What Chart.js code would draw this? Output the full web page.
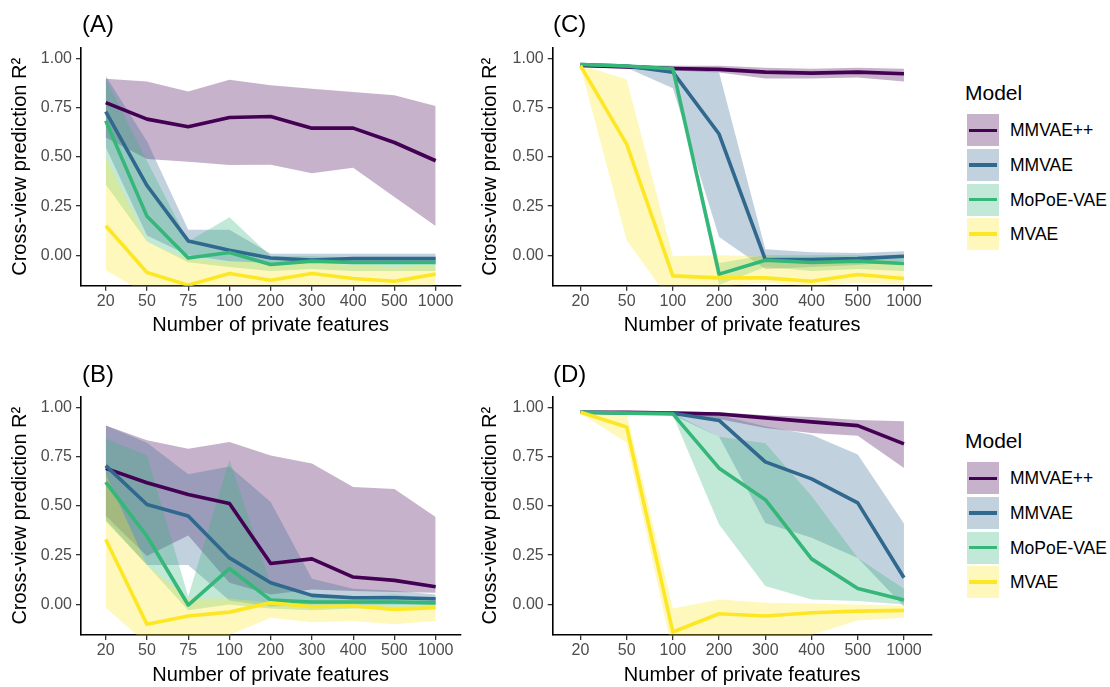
<!DOCTYPE html>
<html><head><meta charset="utf-8">
<script src="https://cdn.jsdelivr.net/npm/chart.js@4.4.1/dist/chart.umd.min.js"></script>
<style>
html,body{margin:0;padding:0;background:#fff;width:1110px;height:687px;overflow:hidden;font-family:"Liberation Sans",Arial,sans-serif;}
canvas{position:absolute;}
.tag{position:absolute;font-size:24px;line-height:28px;color:#000;}
.ltitle{position:absolute;font-size:21px;line-height:26px;color:#000;}
.key{position:absolute;width:32px;height:32px;}
.key i{position:absolute;left:2px;right:2px;top:14.3px;height:3.5px;}
.lab{position:absolute;font-size:17.5px;line-height:20px;color:#000;white-space:nowrap;}
</style></head><body>
<canvas id="cA" width="470" height="338" style="left:0px;top:0px"></canvas>
<canvas id="cC" width="470" height="338" style="left:472px;top:0px"></canvas>
<canvas id="cB" width="470" height="339" style="left:0px;top:348px"></canvas>
<canvas id="cD" width="470" height="339" style="left:472px;top:348px"></canvas>
<div class="tag" style="left:82px;top:10px">(A)</div>
<div class="tag" style="left:553px;top:10px">(C)</div>
<div class="tag" style="left:82px;top:360px">(B)</div>
<div class="tag" style="left:553px;top:360px">(D)</div>
<div id="legends"></div>
<script>
const catsAB = ['20','50','75','100','200','300','400','500','1000'];
const catsCD = ['20','50','100','200','300','400','500','1000'];
const models = ['MMVAE++','MMVAE','MoPoE-VAE','MVAE'];
const yTicks = [0, 0.25, 0.5, 0.75, 1];
const xTitle = 'Number of private features';
const yTitle = 'Cross-view prediction R\u00B2';
const legendTitle = 'Model';

// Panel A
const A_MMVAEpp_mean = [0.777,0.693,0.654,0.701,0.706,0.647,0.647,0.574,0.481];
const A_MMVAEpp_lo   = [0.60,0.49,0.476,0.459,0.461,0.417,0.446,0.296,0.149];
const A_MMVAEpp_hi   = [0.899,0.885,0.833,0.894,0.865,0.848,0.831,0.814,0.760];
const A_MMVAE_mean   = [0.731,0.355,0.073,0.025,-0.014,-0.025,-0.017,-0.017,-0.017];
const A_MMVAE_lo     = [0.55,0.10,0.0,-0.03,-0.04,-0.04,-0.04,-0.04,-0.04];
const A_MMVAE_hi     = [0.912,0.58,0.13,0.13,0.008,0.008,0.008,0.008,0.008];
const A_MoPoE_mean   = [0.684,0.198,-0.014,0.014,-0.047,-0.030,-0.037,-0.037,-0.037];
const A_MoPoE_lo     = [0.36,0.07,-0.035,-0.06,-0.08,-0.07,-0.08,-0.08,-0.08];
const A_MoPoE_hi     = [0.90,0.48,0.07,0.194,-0.005,-0.005,-0.01,-0.01,-0.01];
const A_MVAE_mean    = [0.150,-0.088,-0.152,-0.093,-0.127,-0.093,-0.118,-0.132,-0.096];
const A_MVAE_lo      = [-0.076,-0.2,-0.25,-0.2,-0.2,-0.2,-0.2,-0.2,-0.15];
const A_MVAE_hi      = [0.50,0.07,-0.02,-0.03,-0.04,-0.04,-0.05,-0.06,-0.05];

// Panel B
const B_MMVAEpp_mean = [0.69,0.617,0.557,0.512,0.208,0.231,0.139,0.122,0.09];
const B_MMVAEpp_lo   = [0.45,0.245,0.35,0.11,0.05,0.076,0.068,0.063,0.059];
const B_MMVAEpp_hi   = [0.907,0.833,0.79,0.824,0.755,0.715,0.596,0.586,0.443];
const B_MMVAE_mean   = [0.704,0.507,0.448,0.236,0.11,0.046,0.034,0.034,0.029];
const B_MMVAE_lo     = [0.43,0.2,0.2,0.02,-0.01,0.0,0.0,0.0,0.0];
const B_MMVAE_hi     = [0.907,0.82,0.66,0.70,0.52,0.13,0.08,0.07,0.05];
const B_MoPoE_mean   = [0.62,0.346,-0.003,0.182,0.022,0.012,0.012,0.012,0.008];
const B_MoPoE_lo     = [0.42,0.2,-0.03,0.0,-0.02,-0.03,-0.02,-0.02,-0.01];
const B_MoPoE_hi     = [0.84,0.755,0.04,0.735,0.10,0.05,0.04,0.05,0.03];
const B_MVAE_mean    = [0.329,-0.101,-0.059,-0.039,0.008,-0.012,-0.008,-0.025,-0.017];
const B_MVAE_lo      = [-0.017,-0.2,-0.25,-0.155,-0.068,-0.09,-0.084,-0.1,-0.084];
const B_MVAE_hi      = [0.66,0.2,0.03,0.03,0.01,0.0,0.0,-0.01,0.0];

// Panel C
const C_MMVAEpp_mean = [0.966,0.959,0.951,0.946,0.932,0.927,0.932,0.924];
const C_MMVAEpp_lo   = [0.958,0.95,0.94,0.93,0.90,0.90,0.905,0.885];
const C_MMVAEpp_hi   = [0.975,0.97,0.965,0.965,0.955,0.95,0.955,0.95];
const C_MMVAE_mean   = [0.971,0.963,0.932,0.617,-0.022,-0.022,-0.017,-0.005];
const C_MMVAE_lo     = [0.963,0.955,0.85,0.093,-0.07,-0.06,-0.05,-0.03];
const C_MMVAE_hi     = [0.978,0.97,0.96,0.93,0.03,0.015,0.012,0.02];
const C_MoPoE_mean   = [0.971,0.963,0.949,-0.096,-0.025,-0.037,-0.03,-0.042];
const C_MoPoE_lo     = [0.963,0.955,0.94,-0.15,-0.06,-0.08,-0.07,-0.08];
const C_MoPoE_hi     = [0.978,0.97,0.96,-0.04,0.0,0.0,0.0,-0.01];
const C_MVAE_mean    = [0.965,0.566,-0.105,-0.115,-0.115,-0.132,-0.098,-0.118];
const C_MVAE_lo      = [0.96,0.076,-0.25,-0.16,-0.14,-0.16,-0.14,-0.15];
const C_MVAE_hi      = [0.97,0.895,-0.005,0.0,-0.005,-0.02,-0.02,-0.03];

// Panel D
const D_MMVAEpp_mean = [0.975,0.975,0.97,0.966,0.946,0.926,0.907,0.814];
const D_MMVAEpp_lo   = [0.97,0.97,0.96,0.94,0.895,0.87,0.856,0.692];
const D_MMVAEpp_hi   = [0.98,0.98,0.98,0.975,0.96,0.95,0.935,0.929];
const D_MMVAE_mean   = [0.975,0.97,0.97,0.933,0.723,0.637,0.515,0.135];
const D_MMVAE_lo     = [0.97,0.965,0.96,0.85,0.413,0.338,0.236,-0.01];
const D_MMVAE_hi     = [0.98,0.975,0.975,0.96,0.903,0.861,0.76,0.41];
const D_MoPoE_mean   = [0.975,0.97,0.966,0.691,0.531,0.231,0.081,0.022];
const D_MoPoE_lo     = [0.97,0.965,0.96,0.405,0.093,0.025,0.017,0.0];
const D_MoPoE_hi     = [0.98,0.975,0.97,0.85,0.818,0.55,0.236,0.08];
const D_MVAE_mean    = [0.975,0.90,-0.14,-0.047,-0.059,-0.042,-0.034,-0.03];
const D_MVAE_lo      = [0.97,0.82,-0.25,-0.2,-0.2,-0.155,-0.081,-0.068];
const D_MVAE_hi      = [0.98,0.97,-0.02,0.025,0.008,0.005,0.0,-0.005];

const lineColors = ['#440154','#31688E','#35B779','#FDE725'];
const bandColors = ['rgba(68,1,84,0.3)','rgba(49,104,142,0.3)','rgba(53,183,121,0.3)','rgba(253,231,37,0.3)'];
const FONT = '"Liberation Sans", Arial, sans-serif';
const Y_MIN = -0.155, Y_MAX = 1.055;

function pts(arr){ return arr.map((y,i)=>({x:i,y:y})); }

function makeChart(id, cats, groups, cfg){
  const datasets = [];
  for (let m = groups.length-1; m >= 0; m--){
    const g = groups[m];
    datasets.push({data:pts(g.lo), borderWidth:0, pointRadius:0, fill:false, order:10, borderColor:'rgba(0,0,0,0)'});
    datasets.push({data:pts(g.hi), borderWidth:0, pointRadius:0, fill:'-1', order:10, borderColor:'rgba(0,0,0,0)', backgroundColor:bandColors[m]});
  }
  groups.forEach((g,m)=>{
    datasets.push({data:pts(g.mean), borderColor:lineColors[m], borderWidth:3.6, pointRadius:0, fill:false, order:4-m, tension:0, borderJoinStyle:'round', borderCapStyle:'butt'});
  });
  const gridOpt = {drawOnChartArea:false, drawTicks:true, tickLength:5, color:'#333333', lineWidth:1.3};
  const borderOpt = {display:true, color:'#000000', width:1.6};
  new Chart(document.getElementById(id), {
    type:'line',
    data:{datasets:datasets},
    options:{
      responsive:false, animation:false, devicePixelRatio:1, events:[],
      layout:{padding:cfg.pad},
      plugins:{legend:{display:false}, tooltip:{enabled:false}, filler:{propagate:false, drawTime:'beforeDatasetsDraw'}},
      scales:{
        x:{type:'linear', min:-0.6, max:cats.length-1+0.6,
          afterBuildTicks:s=>{ s.ticks = cats.map((c,i)=>({value:i})); },
          afterFit:s=>{ s.height = 52; },
          ticks:{callback:v=>cats[v], autoSkip:false, maxRotation:0, minRotation:0, font:{size:16,family:FONT}, color:'#4d4d4d', padding:1},
          grid:gridOpt, border:borderOpt,
          title:{display:true, text:xTitle, font:{size:20,family:FONT}, color:'#000', padding:{top:0,bottom:0}}},
        y:{type:'linear', min:Y_MIN, max:Y_MAX,
          afterBuildTicks:s=>{ s.ticks = yTicks.map(v=>({value:v})); },
          afterFit:s=>{ s.width = cfg.yw; },
          ticks:{callback:v=>Number(v).toFixed(2), font:{size:16,family:FONT}, color:'#4d4d4d', padding:4},
          grid:gridOpt, border:borderOpt,
          title:{display:true, text:yTitle, font:{size:20,family:FONT}, color:'#000', padding:{top:cfg.tp,bottom:0}}}
      }
    }
  });
}

function grp(mean, lo, hi){ return {mean:mean, lo:lo, hi:hi}; }

makeChart('cA', catsAB, [
  grp(A_MMVAEpp_mean, A_MMVAEpp_lo, A_MMVAEpp_hi),
  grp(A_MMVAE_mean, A_MMVAE_lo, A_MMVAE_hi),
  grp(A_MoPoE_mean, A_MoPoE_lo, A_MoPoE_hi),
  grp(A_MVAE_mean, A_MVAE_lo, A_MVAE_hi)
], {pad:{left:0, top:48, right:9.6, bottom:0.3}, yw:81, tp:8});

makeChart('cC', catsCD, [
  grp(C_MMVAEpp_mean, C_MMVAEpp_lo, C_MMVAEpp_hi),
  grp(C_MMVAE_mean, C_MMVAE_lo, C_MMVAE_hi),
  grp(C_MoPoE_mean, C_MoPoE_lo, C_MoPoE_hi),
  grp(C_MVAE_mean, C_MVAE_lo, C_MVAE_hi)
], {pad:{left:0, top:48, right:10.3, bottom:0.3}, yw:80.7, tp:6});

makeChart('cB', catsAB, [
  grp(B_MMVAEpp_mean, B_MMVAEpp_lo, B_MMVAEpp_hi),
  grp(B_MMVAE_mean, B_MMVAE_lo, B_MMVAE_hi),
  grp(B_MoPoE_mean, B_MoPoE_lo, B_MoPoE_hi),
  grp(B_MVAE_mean, B_MVAE_lo, B_MVAE_hi)
], {pad:{left:0, top:48.4, right:9.6, bottom:0}, yw:81, tp:8});

makeChart('cD', catsCD, [
  grp(D_MMVAEpp_mean, D_MMVAEpp_lo, D_MMVAEpp_hi),
  grp(D_MMVAE_mean, D_MMVAE_lo, D_MMVAE_hi),
  grp(D_MoPoE_mean, D_MoPoE_lo, D_MoPoE_hi),
  grp(D_MVAE_mean, D_MVAE_lo, D_MVAE_hi)
], {pad:{left:0, top:48.4, right:10.3, bottom:0}, yw:80.7, tp:6});

// Legends
const lg = document.getElementById('legends');
[0, 348].forEach(T=>{
  const t = document.createElement('div');
  t.className = 'ltitle'; t.textContent = legendTitle;
  t.style.left = '965px'; t.style.top = (80+T)+'px';
  lg.appendChild(t);
  models.forEach((name,i)=>{
    const k = document.createElement('div');
    k.className = 'key';
    k.style.left = '966.7px'; k.style.top = (114.3 + i*34.6 + T)+'px';
    k.style.background = bandColors[i];
    const ln = document.createElement('i');
    ln.style.background = lineColors[i];
    k.appendChild(ln);
    lg.appendChild(k);
    const l = document.createElement('div');
    l.className = 'lab'; l.textContent = name;
    l.style.left = '1010px'; l.style.top = (130.3 + i*34.6 + T - 10)+'px';
    lg.appendChild(l);
  });
});
</script>
</body></html>
